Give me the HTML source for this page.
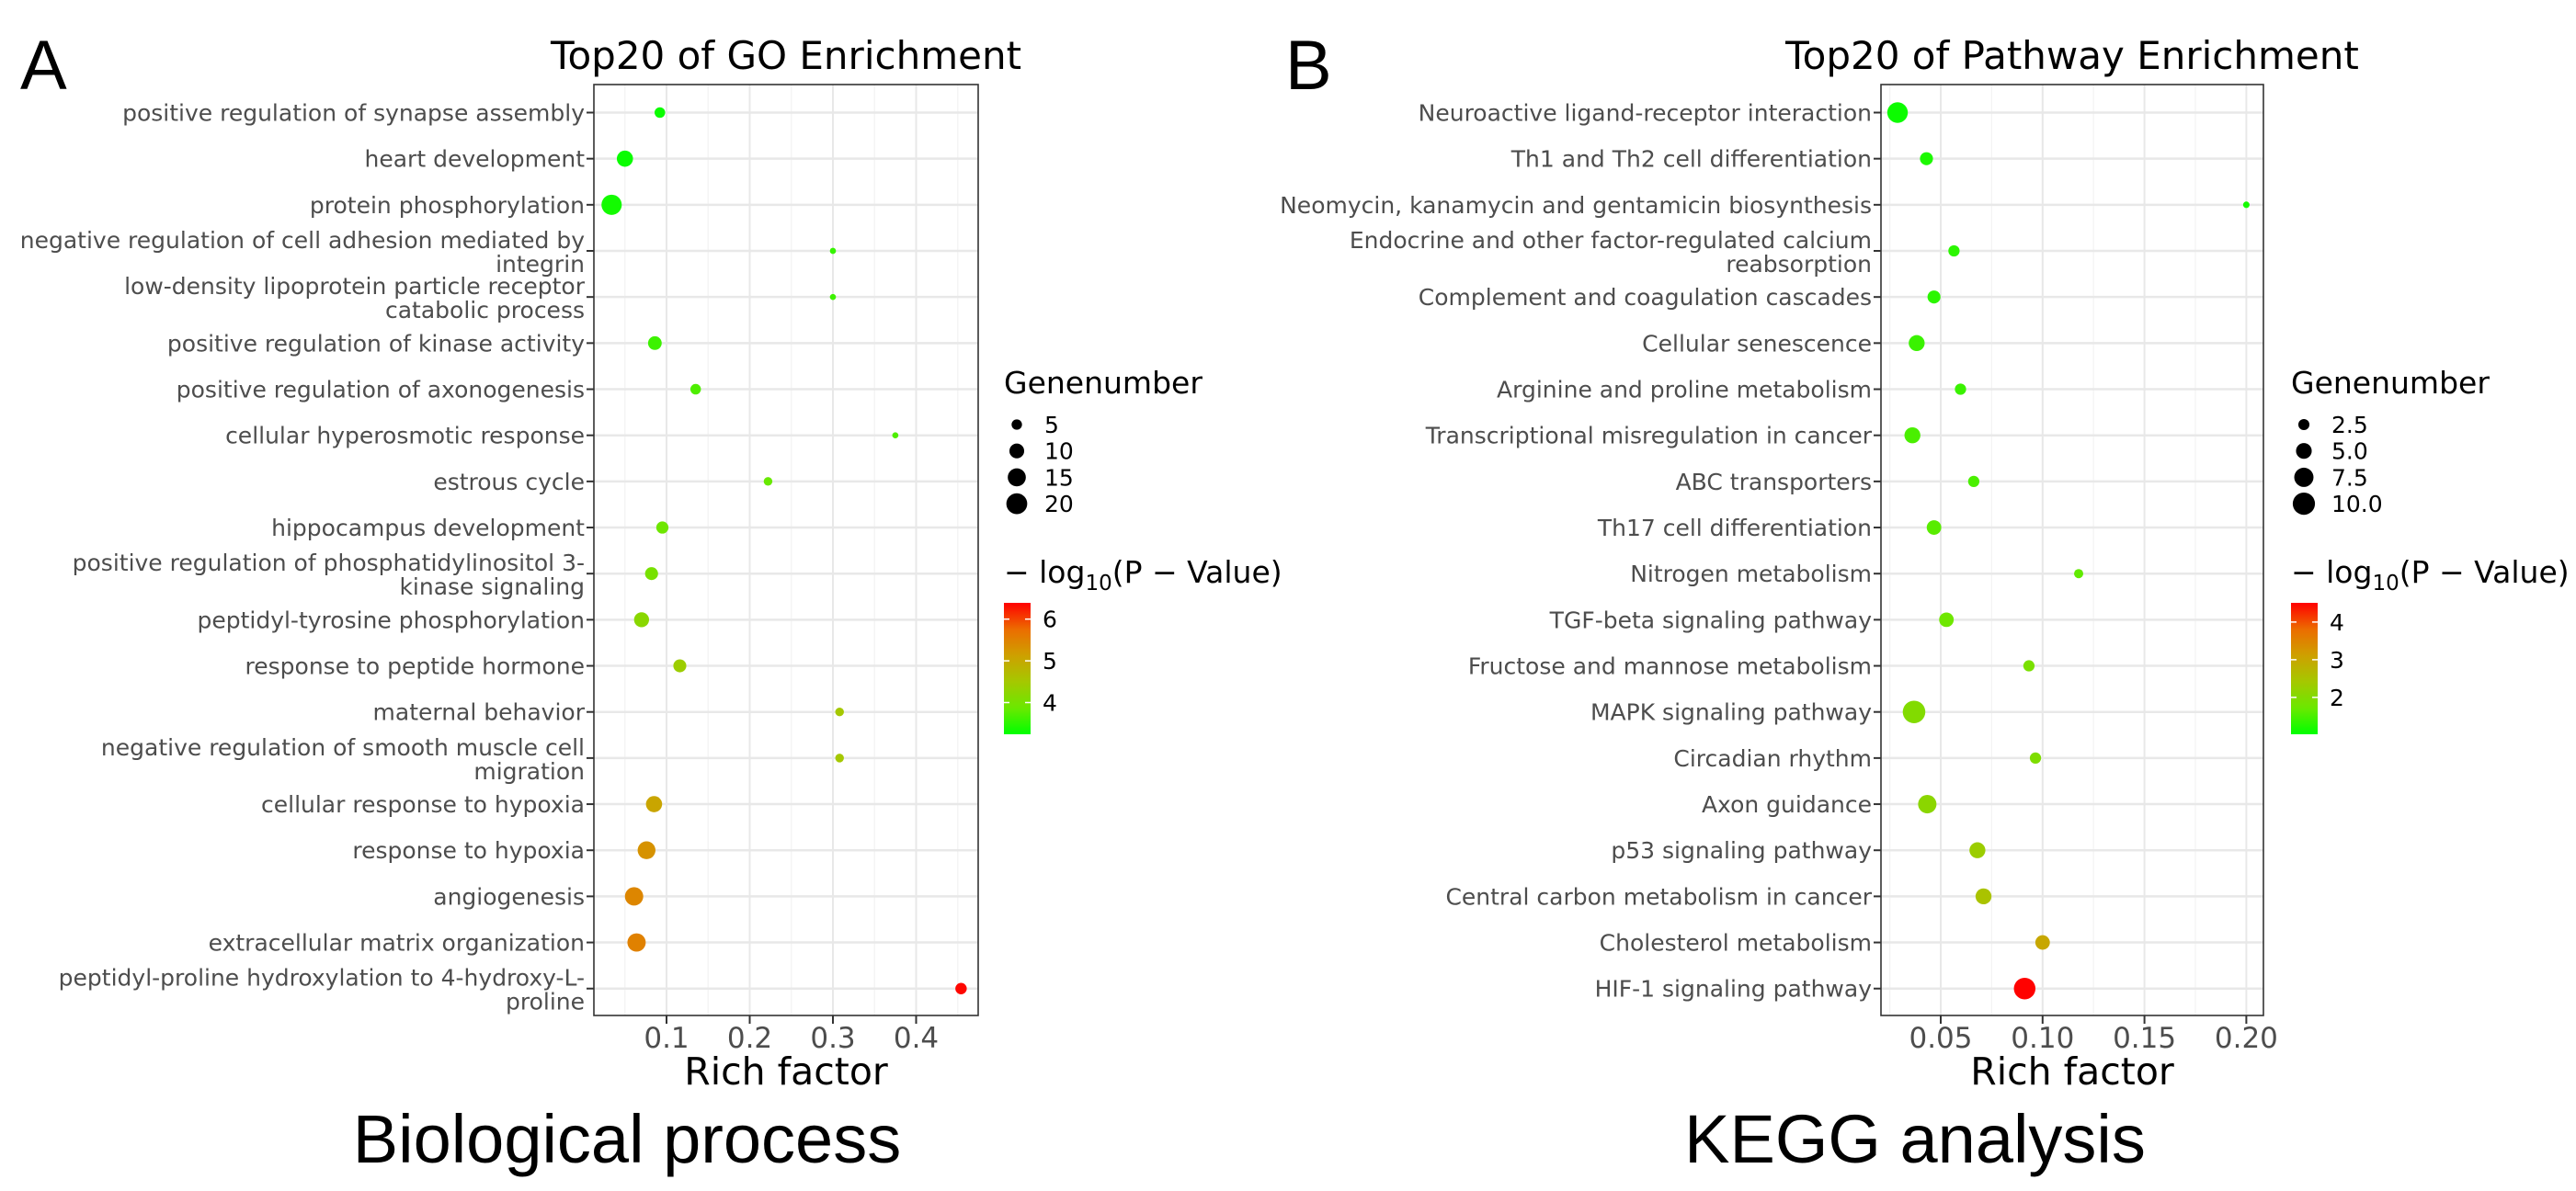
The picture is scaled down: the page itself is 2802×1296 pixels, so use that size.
<!DOCTYPE html>
<html><head><meta charset="utf-8">
<style>
html,body{margin:0;padding:0;background:#fff;}
svg{display:block;font-family:"DejaVu Sans","Liberation Sans",sans-serif;}
</style></head>
<body>
<svg id="fig" width="2802" height="1296" viewBox="0 0 2802 1296" xmlns="http://www.w3.org/2000/svg">
<rect width="2802" height="1296" fill="#fff"/>
<text x="22" y="97" font-size="76" fill="#000" font-family="Liberation Sans, sans-serif">A</text>
<text x="1398" y="97" font-size="76" fill="#000" font-family="Liberation Sans, sans-serif">B</text>
<text x="682" y="1265" font-size="74" text-anchor="middle" font-family="Liberation Sans, sans-serif">Biological process</text>
<text x="2083" y="1265" font-size="74" text-anchor="middle" font-family="Liberation Sans, sans-serif">KEGG analysis</text>
<g id="pa"></g>
<g id="pb"></g>
</svg>
<script>
// ---- Panel A data (GO) ----
const goTerms = ["positive regulation of synapse assembly","heart development","protein phosphorylation","negative regulation of cell adhesion mediated by|integrin","low-density lipoprotein particle receptor|catabolic process","positive regulation of kinase activity","positive regulation of axonogenesis","cellular hyperosmotic response","estrous cycle","hippocampus development","positive regulation of phosphatidylinositol 3-|kinase signaling","peptidyl-tyrosine phosphorylation","response to peptide hormone","maternal behavior","negative regulation of smooth muscle cell|migration","cellular response to hypoxia","response to hypoxia","angiogenesis","extracellular matrix organization","peptidyl-proline hydroxylation to 4-hydroxy-L-|proline"];
const goRich = [0.092,0.050,0.034,0.300,0.300,0.086,0.135,0.375,0.222,0.095,0.082,0.070,0.116,0.308,0.308,0.085,0.076,0.061,0.064,0.454];
const goGenes = [6,14,22,2,2,10,6,2,4,8,9,12,9,4,4,14,17,18,18,7];
const goLogP = [3.30,3.30,3.35,3.55,3.60,3.60,3.70,3.70,3.85,3.90,4.00,4.20,4.40,4.50,4.50,5.05,5.30,5.45,5.50,6.35];
const goXTicks = [0.1,0.2,0.3,0.4];
const goXTickLabels = ["0.1","0.2","0.3","0.4"];
const goSizeBreaks = [5,10,15,20];
const goSizeLabels = ["5","10","15","20"];
const goColorBreaks = [4,5,6];
// ---- Panel B data (KEGG) ----
const kgTerms = ["Neuroactive ligand-receptor interaction","Th1 and Th2 cell differentiation","Neomycin, kanamycin and gentamicin biosynthesis","Endocrine and other factor-regulated calcium|reabsorption","Complement and coagulation cascades","Cellular senescence","Arginine and proline metabolism","Transcriptional misregulation in cancer","ABC transporters","Th17 cell differentiation","Nitrogen metabolism","TGF-beta signaling pathway","Fructose and mannose metabolism","MAPK signaling pathway","Circadian rhythm","Axon guidance","p53 signaling pathway","Central carbon metabolism in cancer","Cholesterol metabolism","HIF-1 signaling pathway"];
const kgRich = [0.0288,0.043,0.200,0.0565,0.0467,0.0382,0.0597,0.0361,0.0662,0.0467,0.1177,0.0528,0.0933,0.0369,0.0965,0.0434,0.068,0.071,0.100,0.0912];
const kgGenes = [10,4,1,3,4,6,3,6,3,5,2,5,3,12,3,8,6,6,5,11];
const kgLogP = [1.10,1.20,1.15,1.30,1.30,1.40,1.40,1.50,1.50,1.60,1.65,1.75,1.90,2.00,1.95,2.10,2.30,2.50,3.00,4.50];
const kgXTicks = [0.05,0.10,0.15,0.20];
const kgXTickLabels = ["0.05","0.10","0.15","0.20"];
const kgSizeBreaks = [2.5,5,7.5,10];
const kgSizeLabels = ["2.5","5.0","7.5","10.0"];
const kgColorBreaks = [2,3,4];

const NS="http://www.w3.org/2000/svg";
function el(tag,attrs,parent){const e=document.createElementNS(NS,tag);for(const k in attrs)e.setAttribute(k,attrs[k]);parent.appendChild(e);return e;}
const stops=[[0,[0,255,0]],[0.2,[107,232,0]],[0.4,[165,200,0]],[0.6,[206,160,0]],[0.8,[236,108,0]],[1,[255,0,0]]];
function grad(t){t=Math.max(0,Math.min(1,t));for(let i=1;i<stops.length;i++){if(t<=stops[i][0]){const a=stops[i-1],b=stops[i];const f=(t-a[0])/(b[0]-a[0]);const c=a[1].map((v,j)=>Math.round(v+(b[1][j]-v)*f));return `rgb(${c[0]},${c[1]},${c[2]})`;}}return "rgb(255,0,0)";}

function panel(g,o){
  const L=o.L,R=o.R,T=92,B=1105;
  const xs=v=>o.x0px+(v)*o.ppu;
  const ys=i=>122.5+i*50.17;
  const t=el('text',{x:o.titleX,y:75,'font-size':42,'text-anchor':'middle',fill:'#000'},g);t.textContent=o.title;
  
  
  for(let i=0;i<o.xticks.length+1;i++){
    const v=(i===0?o.xticks[0]-o.step/2:o.xticks[i-1]+o.step/2);
    const px=xs(v); if(px>L&&px<R){const l=el('line',{x1:px,x2:px,y1:T,y2:B,stroke:'#f3f3f3','stroke-width':1.2},g);
      
      }
  }
  o.xticks.forEach((v,i)=>{const px=xs(v);
    const l=el('line',{x1:px,x2:px,y1:T,y2:B,stroke:'#e8e8e8','stroke-width':2},g);
    
    
    el('line',{x1:px,x2:px,y1:B,y2:B+9,stroke:'#333','stroke-width':2},g);
    const tx=el('text',{x:px,y:1140,'font-size':31,'text-anchor':'middle',fill:'#4d4d4d'},g);tx.textContent=o.xlabels[i];
    
    
  });
  o.terms.forEach((term,i)=>{const y=ys(i);
    const l=el('line',{x1:L,x2:R,y1:y,y2:y,stroke:'#e8e8e8','stroke-width':2.5},g);
    
    
    el('line',{x1:L-8,x2:L,y1:y,y2:y,stroke:'#333','stroke-width':2},g);
    const parts=term.split('|');
    const offs=parts.length===1?[0]:[-12,14];
    parts.forEach((p,k)=>{const tx=el('text',{x:L-10,y:y+offs[k]+9,'font-size':25,'text-anchor':'end',fill:'#4d4d4d'},g);tx.textContent=p;
      
      });
  });
  o.terms.forEach((term,i)=>{
    const c=el('circle',{cx:xs(o.rich[i]),cy:ys(i),r:o.rk*Math.sqrt(o.genes[i]),fill:grad((o.logp[i]-o.cmin)/(o.cmax-o.cmin))},g);
    
    
  });
  const br=el('rect',{x:L,y:T,width:R-L,height:B-T,fill:'none',stroke:'#333','stroke-width':1.6},g);
  
  
  const xt=el('text',{x:(L+R)/2,y:1180,'font-size':41,'text-anchor':'middle',fill:'#000'},g);xt.textContent='Rich factor';
  
  
  const lx=o.legX;
  const st=el('text',{x:lx,y:428,'font-size':33,fill:'#000'},g);st.textContent='Genenumber';
  
  
  o.sizeBreaks.forEach((s,i)=>{const y=462+i*28.7;
    const c=el('circle',{cx:lx+14,cy:y,r:o.rk*1.08*Math.sqrt(s),fill:'#000'},g);
    
    
    const tx=el('text',{x:lx+44,y:y+9,'font-size':25,fill:'#000'},g);tx.textContent=o.sizeLabels[i];
    
    });
  const ct=el('text',{x:lx,y:634,'font-size':33,fill:'#000'},g);
  
  
  ct.innerHTML='\u2212 log<tspan font-size="23" dy="8">10</tspan><tspan dy="-8">(P \u2212 Value)</tspan>';
  const gid='g'+o.id;
  const defs=el('defs',{},g);const lg=el('linearGradient',{id:gid,x1:0,y1:1,x2:0,y2:0},defs);
  stops.forEach(s=>el('stop',{offset:s[0],'stop-color':`rgb(${s[1].join(',')})`},lg));
  const cb=el('rect',{x:lx,y:656,width:29,height:143,fill:`url(#${gid})`},g);
  
  
  o.cbreaks.forEach(v=>{const y=799-(v-o.cmin)/(o.cmax-o.cmin)*143;
    el('line',{x1:lx,x2:lx+6,y1:y,y2:y,stroke:'#fff','stroke-width':1.5},g);
    el('line',{x1:lx+23,x2:lx+29,y1:y,y2:y,stroke:'#fff','stroke-width':1.5},g);
    const tx=el('text',{x:lx+42,y:y+9,'font-size':25,fill:'#000'},g);tx.textContent=String(v);
    
    });
}
panel(document.getElementById('pa'),{id:'a',L:646,R:1064,x0px:634.5,ppu:905,step:0.1,title:'Top20 of GO Enrichment',titleX:855,
  terms:goTerms,rich:goRich,genes:goGenes,logp:goLogP,xticks:goXTicks,xlabels:goXTickLabels,rk:2.35,
  sizeBreaks:goSizeBreaks,sizeLabels:goSizeLabels,cbreaks:goColorBreaks,cmin:3.24,cmax:6.39,legX:1092});
panel(document.getElementById('pb'),{id:'b',L:2046,R:2462,x0px:2000.2,ppu:2216,step:0.05,title:'Top20 of Pathway Enrichment',titleX:2254,
  terms:kgTerms,rich:kgRich,genes:kgGenes,logp:kgLogP,xticks:kgXTicks,xlabels:kgXTickLabels,rk:3.54,
  sizeBreaks:kgSizeBreaks,sizeLabels:kgSizeLabels,cbreaks:kgColorBreaks,cmin:1.02,cmax:4.51,legX:2492});
</script>
</body></html>
